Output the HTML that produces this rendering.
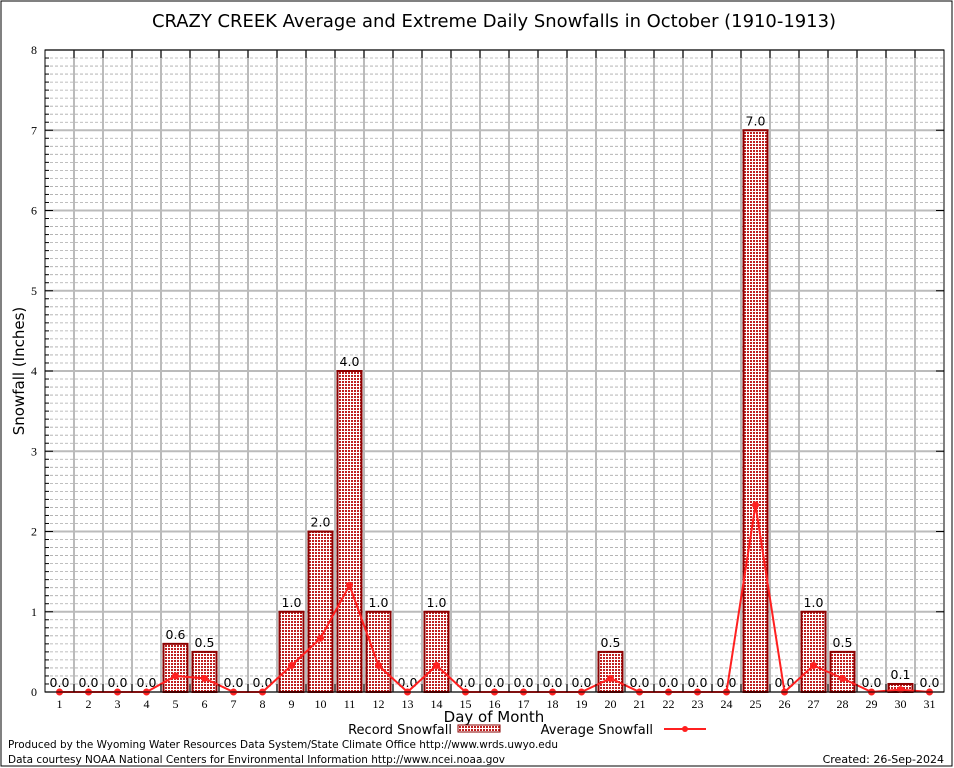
<!DOCTYPE html>
<html><head><meta charset="utf-8"><style>
body{margin:0;background:#fff;}
svg{display:block;font-family:"DejaVu Sans","Liberation Sans",sans-serif;}
</style></head><body>
<svg id="c" width="954" height="768" xmlns="http://www.w3.org/2000/svg">
<defs>
<pattern id="chk" width="3" height="3" patternUnits="userSpaceOnUse">
<rect width="3" height="3" fill="#fff"/>
<rect width="2" height="2" fill="#c02020"/>
</pattern>
</defs>
<rect x="1" y="1" width="951" height="765" fill="#fff" stroke="#000" stroke-width="1"/>
<text x="494" y="27" font-size="18" text-anchor="middle" textLength="684" lengthAdjust="spacingAndGlyphs">CRAZY CREEK Average and Extreme Daily Snowfalls in October (1910-1913)</text>
<g id="grid"></g>
<g id="bars"></g>
<g id="line"></g>
<g id="axes"></g>
<text transform="translate(24,371) rotate(-90)" font-size="15" text-anchor="middle">Snowfall (Inches)</text>
<text x="494" y="722" font-size="15" text-anchor="middle">Day of Month</text>
<g>
<text x="452" y="734" font-size="13" text-anchor="end">Record Snowfall</text>
<rect x="458" y="725" width="42" height="7" fill="url(#chk)" stroke="#8b0000"/>
<text x="653" y="734" font-size="13" text-anchor="end">Average Snowfall</text>
<line x1="664" y1="729" x2="706" y2="729" stroke="#ff2020" stroke-width="2"/>
<circle cx="685" cy="729" r="3" fill="#ff2020"/>
</g>
<text x="8" y="748" font-size="11" textLength="550" lengthAdjust="spacingAndGlyphs">Produced by the Wyoming Water Resources Data System/State Climate Office http://www.wrds.uwyo.edu</text>
<text x="8" y="763" font-size="11" textLength="497" lengthAdjust="spacingAndGlyphs">Data courtesy NOAA National Centers for Environmental Information http://www.ncei.noaa.gov</text>
<text x="944" y="763" font-size="11" text-anchor="end">Created:  26-Sep-2024</text>
</svg>
<script>
const days=[1,2,3,4,5,6,7,8,9,10,11,12,13,14,15,16,17,18,19,20,21,22,23,24,25,26,27,28,29,30,31];
const recordVals=[0,0,0,0,0.6,0.5,0,0,1.0,2.0,4.0,1.0,0,1.0,0,0,0,0,0,0.5,0,0,0,0,7.0,0,1.0,0.5,0,0.1,0];
const avgVals=[0,0,0,0,0.2,0.17,0,0,0.33,0.67,1.33,0.33,0,0.33,0,0,0,0,0,0.17,0,0,0,0,2.33,0,0.33,0.17,0,0.03,0];
const yTicks=[0,1,2,3,4,5,6,7,8];
const L=45,R=944,T=50,B=692,yMax=8;
const dayW=(R-L)/days.length;
const x=d=>L+(d-0.5)*dayW;
const y=v=>B-(v/yMax)*(B-T);
const NS="http://www.w3.org/2000/svg";
function mk(tag,attrs,parent,txt){const e=document.createElementNS(NS,tag);for(const k in attrs)e.setAttribute(k,attrs[k]);if(txt!==undefined)e.textContent=txt;document.getElementById(parent).appendChild(e);return e;}
for(let i=0;i<yMax*10;i++){if(i%10===0)continue;const yy=y(i/10);
const g=mk('line',{x1:L,x2:R,y1:yy,y2:yy,stroke:'#aaa','stroke-dasharray':'3,2','stroke-width':0.8},'grid');

}
for(const t of yTicks){const yy=y(t);
const g=mk('line',{x1:L,x2:R,y1:yy,y2:yy,stroke:'#bbb','stroke-width':2},'grid');


const lb=mk('text',{x:L-8,y:yy+4,'font-size':12,'text-anchor':'end','font-family':'Liberation Serif, serif'},'axes',String(t));


for(const xx of [L,R]){const tk=mk('line',{x1:xx,x2:xx+(xx===L?8:-8),y1:yy,y2:yy,stroke:'#000'},'axes');

}}
for(let i=1;i<days.length;i++){const xx=L+i*dayW;
const g=mk('line',{x1:xx,x2:xx,y1:T,y2:B,stroke:'#bbb','stroke-width':2},'grid');


for(const [a,b] of [[T,T+8],[B,B-8]]){const tk=mk('line',{x1:xx,x2:xx,y1:a,y2:b,stroke:'#000'},'axes');

}}
for(let t=0;t<yMax*10;t++){if(t%10===0)continue;const yy=y(t/10);
const tk=mk('line',{x1:L,x2:L+4,y1:yy,y2:yy,stroke:'#000'},'axes');

}
const fr=mk('rect',{x:L,y:T,width:R-L,height:B-T,fill:'none',stroke:'#000'},'axes');


days.forEach((d,i)=>{const v=recordVals[i];const bw=24;
if(v>0){const r=mk('rect',{x:x(d)-bw/2,y:y(v),width:bw,height:B-y(v),fill:'url(#chk)',stroke:'#8b0000','stroke-width':2},'bars');

}
const lb=mk('text',{x:x(d),y:y(v)-5,'font-size':12.5,'text-anchor':'middle'},'bars',v.toFixed(1));


const xl=mk('text',{x:x(d),y:B+16,'font-size':12,'text-anchor':'middle','font-family':'Liberation Serif, serif'},'axes',String(d));

});
const pts=days.map((d,i)=>x(d)+','+y(avgVals[i])).join(' ');
const pl=mk('polyline',{points:pts,fill:'none',stroke:'#ff2020','stroke-width':2},'line');


days.forEach((d,i)=>{const c=mk('circle',{cx:x(d),cy:y(avgVals[i]),r:3.5,fill:'#ff2020'},'line');

});
</script>
</body></html>
